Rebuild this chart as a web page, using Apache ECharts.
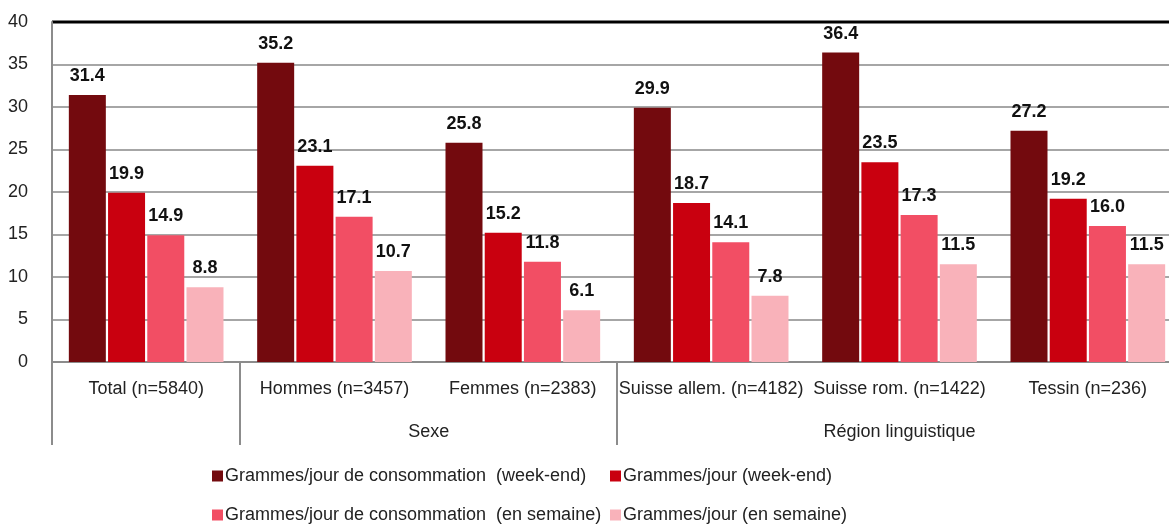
<!DOCTYPE html>
<html>
<head>
<meta charset="utf-8">
<script src="https://cdn.jsdelivr.net/npm/echarts@6/dist/echarts.min.js"></script>
<style>
  html, body { margin: 0; padding: 0; background: #fff; }
  #main { width: 1169px; height: 524px; }
</style>
</head>
<body>
<div id="main"></div>
<script>
// catégories (axe x) et groupes
var categories = ["Total (n=5840)", "Hommes (n=3457)", "Femmes (n=2383)", "Suisse allem. (n=4182)", "Suisse rom. (n=1422)", "Tessin (n=236)"];
var groups = [
  { name: "Sexe", from: 1, to: 2 },
  { name: "Région linguistique", from: 3, to: 5 }
];

// séries
var seriesNames = [
  "Grammes/jour de consommation  (week-end)",
  "Grammes/jour (week-end)",
  "Grammes/jour de consommation  (en semaine)",
  "Grammes/jour (en semaine)"
];
var consoWeekEnd = [31.4, 35.2, 25.8, 29.9, 36.4, 27.2];
var jourWeekEnd = [19.9, 23.1, 15.2, 18.7, 23.5, 19.2];
var consoSemaine = [14.9, 17.1, 11.8, 14.1, 17.3, 16.0];
var jourSemaine = [8.8, 10.7, 6.1, 7.8, 11.5, 11.5];
var colors = ["#730A0E", "#C9000F", "#F24E64", "#F9B2BA"];

var FONT = "'Liberation Sans', Arial, sans-serif";

function makeSeries(i, data) {
  return {
    name: seriesNames[i],
    type: "bar",
    data: data,
    barWidth: 37,
    barGap: "6%",
    itemStyle: { color: colors[i] },
    label: {
      show: true,
      position: "top",
      distance: 10,
      fontFamily: FONT,
      fontWeight: "bold",
      fontSize: 18,
      color: "#111",
      formatter: function (p) { return p.value.toFixed(1); }
    }
  };
}

// une légende par élément pour aligner les colonnes
var legendPos = [[207, 462], [605, 462], [207, 501], [605, 501]];
var legends = seriesNames.map(function (n, i) {
  return {
    data: [n],
    left: legendPos[i][0],
    top: legendPos[i][1],
    itemWidth: 11,
    itemHeight: 11,
    icon: "rect",
    selectedMode: false,
    textStyle: { fontFamily: FONT, fontSize: 18, color: "#222", padding: [0, 0, 0, -3] }
  };
});

var myChart = echarts.init(document.getElementById("main"));
var option = {
  animation: false,
  grid: { left: 52, top: 22, width: 1130, height: 340, outerBoundsMode: "none" },
  legend: legends,
  xAxis: {
    type: "category",
    data: categories,
    axisLine: { lineStyle: { color: "#8c8c8c", width: 2 } },
    axisTick: { show: false },
    axisLabel: { fontFamily: FONT, fontSize: 18, color: "#222", margin: 18, interval: 0 }
  },
  yAxis: {
    type: "value",
    min: 0,
    max: 40,
    interval: 5,
    axisLine: { show: true, lineStyle: { color: "#8c8c8c", width: 2 } },
    axisTick: { show: false },
    axisLabel: { fontFamily: FONT, fontSize: 18, color: "#222", margin: 24 },
    splitLine: { lineStyle: { color: "#a6a6a6", width: 2 } }
  },
  series: [
    makeSeries(0, consoWeekEnd),
    makeSeries(1, jourWeekEnd),
    makeSeries(2, consoSemaine),
    makeSeries(3, jourSemaine)
  ]
};
myChart.setOption(option);

// lignes de séparation et libellés de groupe, placés via l'échelle de l'axe
var c0 = myChart.convertToPixel({ xAxisIndex: 0 }, categories[0]);
var c1 = myChart.convertToPixel({ xAxisIndex: 0 }, categories[1]);
var band = c1 - c0;
var yTop = myChart.convertToPixel({ yAxisIndex: 0 }, 40);
var yZero = myChart.convertToPixel({ yAxisIndex: 0 }, 0);
function leftEdge(i) { return myChart.convertToPixel({ xAxisIndex: 0 }, categories[i]) - band / 2; }

var graphics = [];
var seps = [0, 1, 3];
seps.forEach(function (i) {
  var x = Math.round(leftEdge(i));
  graphics.push({ type: "line", shape: { x1: x, y1: yZero, x2: x, y2: yZero + 83 }, style: { stroke: "#8c8c8c", lineWidth: 2 } });
});
groups.forEach(function (g) {
  var x = (leftEdge(g.from) + leftEdge(g.to) + band) / 2;
  graphics.push({
    type: "text", x: x, y: yZero + 70,
    style: { text: g.name, fontFamily: FONT, fontSize: 18, fill: "#222", textAlign: "center", textVerticalAlign: "middle" }
  });
});
graphics.push({ type: "line", shape: { x1: 52, y1: yTop, x2: 1169, y2: yTop }, style: { stroke: "#000", lineWidth: 3 } });
myChart.setOption({ graphic: graphics });
</script>
</body>
</html>
